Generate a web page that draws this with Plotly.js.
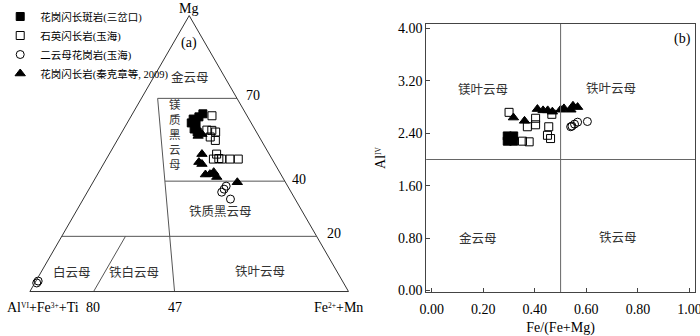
<!DOCTYPE html>
<html><head><meta charset="utf-8">
<script src="https://cdn.plot.ly/plotly-3.0.1.min.js"></script>
<style>html,body{margin:0;padding:0;background:#fff}#chart{width:700px;height:336px}</style>
</head><body><div id="chart"></div>
<script>
const FONT = 'Liberation Serif, Noto Sans CJK SC, serif';

// ---- series ----
const seriesNames = ['花岗闪长斑岩(三岔口)', '石英闪长岩(玉海)', '二云母花岗岩(玉海)', '花岗闪长岩(秦克章等, 2009)'];
const seriesSymbols = ['square', 'square-open', 'circle-open', 'triangle-up'];

// ---- panel (a) ternary data: [Mg, AlVI+Fe3++Ti, Fe2++Mn] in % ----
const terPorphyry = [[64.4,13.5,22.1],[63.3,15.3,21.4],[62.5,17.5,20.0],[61.1,18.8,20.1],[60.7,17.5,21.8],[58.9,19.0,22.1],[57.8,18.6,23.6]];
const terQzDiorite = [[63.7,11.0,25.3],[58.5,15.2,26.3],[58.4,13.7,27.9],[57.8,12.8,29.4],[56.0,15.4,28.6],[54.7,14.4,30.8],[49.8,16.5,33.7],[48.0,18.4,33.6],[48.2,16.6,35.2],[48.0,15.8,36.2],[48.0,13.2,38.8],[48.0,10.6,41.4]];
const terTwoMica = [[36.0,21.8,42.2],[37.1,20.5,42.4],[38.2,19.3,42.5],[33.5,20.3,46.2],[3.1,96.3,0.6],[3.8,95.5,0.7]];
const terGranodiorite = [[56.4,19.0,24.6],[57.1,17.5,25.5],[49.8,21.1,29.1],[46.9,23.5,29.6],[46.2,22.9,30.9],[42.4,23.7,33.9],[42.5,22.2,35.2],[43.3,20.7,36.1],[41.5,20.6,37.9],[39.6,15.1,45.3]];

// ---- panel (a) field boundaries [Mg, Al, Fe] ----
const bndMg70 = [[70,24.9,5.1],[70,0,30]];
const bndMg40 = [[40,37.6,22.4],[40,0,60]];
const bndMg20 = [[20,80,0],[20,0,80]];
const bndInner = [[70,24.9,5.1],[0,54.6,45.4]];
const bndFe20 = [[0,80,20],[20,60,20]];

// ---- panel (b) data: Fe/(Fe+Mg) vs AlIV ----
const bPorphyryX = [0.293,0.318,0.293,0.318,0.305,0.300,0.312];
const bPorphyryY = [2.36,2.36,2.28,2.28,2.32,2.34,2.30];
const bQzDioriteX = [0.300,0.371,0.403,0.403,0.466,0.454,0.449,0.461,0.352,0.378];
const bQzDioriteY = [2.72,2.50,2.63,2.53,2.69,2.50,2.37,2.32,2.28,2.27];
const bTwoMicaX = [0.539,0.544,0.554,0.566,0.604];
const bTwoMicaY = [2.50,2.51,2.54,2.57,2.58];
const bGranodioriteX = [0.317,0.360,0.410,0.432,0.450,0.468,0.500,0.513,0.540,0.548,0.566];
const bGranodioriteY = [2.64,2.59,2.77,2.75,2.75,2.73,2.76,2.78,2.76,2.82,2.80];

const bDivFe = 0.5, bDivAl = 2.0;
const bXTicks = [0, 0.2, 0.4, 0.6, 0.8, 1.0];
const bYTicks = [0, 0.8, 1.6, 2.4, 3.2, 4.0];

const W = 700, H = 336;
const terSeries = [terPorphyry, terQzDiorite, terTwoMica, terGranodiorite];
const bSeries = [[bPorphyryX,bPorphyryY],[bQzDioriteX,bQzDioriteY],[bTwoMicaX,bTwoMicaY],[bGranodioriteX,bGranodioriteY]];

function mk(i) {
  return {symbol: seriesSymbols[i], size: i === 3 ? 9 : 8, color: '#000', line: {color: '#000', width: 1}};
}
function sup(t) {
  return '<span style="baseline-shift:super;font-size:7.5px">' + t + '</span>';
}

const traces = [];
[bndMg70, bndMg40, bndMg20, bndInner, bndFe20].forEach(l => {
  traces.push({type: 'scatterternary', mode: 'lines', a: l.map(p => p[0]), b: l.map(p => p[1]), c: l.map(p => p[2]),
    line: {color: '#555', width: 1}, showlegend: false, hoverinfo: 'skip'});
});
terSeries.forEach((s, i) => {
  traces.push({type: 'scatterternary', mode: 'markers', name: seriesNames[i], legendgroup: 'g' + i,
    a: s.map(p => p[0]), b: s.map(p => p[1]), c: s.map(p => p[2]), marker: mk(i), cliponaxis: false});
});
bSeries.forEach((s, i) => {
  traces.push({type: 'scatter', mode: 'markers', name: seriesNames[i], legendgroup: 'g' + i, showlegend: false,
    x: s[0], y: s[1], xaxis: 'x', yaxis: 'y', marker: mk(i)});
});

function ann(text, x, y, opts) {
  return Object.assign({text: text, x: x / W, y: 1 - y / H, xref: 'paper', yref: 'paper', showarrow: false,
    xanchor: 'center', yanchor: 'middle', font: {family: FONT, size: 14, color: '#000'}}, opts || {});
}
const fieldFont = {family: FONT, size: 12.5, color: '#333'};

const terAx = {showline: true, linecolor: '#333', linewidth: 1, showgrid: false, showticklabels: false, ticks: '', title: {text: ''}};

const layout = {
  width: W, height: H, margin: {l: 0, r: 0, t: 0, b: 0},
  paper_bgcolor: '#fff', plot_bgcolor: '#fff',
  font: {family: FONT, size: 14, color: '#000'},
  showlegend: true,
  legend: {x: -0.004, y: 1 - 2 / H, xanchor: 'left', yanchor: 'top', traceorder: 'normal', tracegroupgap: 0,
    font: {family: FONT, size: 10.5, color: '#000'}, bgcolor: 'rgba(0,0,0,0)', itemwidth: 30},
  ternary: {domain: {x: [27 / W, 347 / W], y: [0.113, 0.973]}, sum: 100, bgcolor: 'rgba(0,0,0,0)',
    aaxis: terAx, baxis: terAx, caxis: terAx},
  xaxis: {domain: [425 / W, 695 / W], range: [-0.0216, 1.0216], tickvals: bXTicks, tickformat: '.2f',
    ticks: 'inside', ticklen: 4, tickcolor: '#444', showline: true, mirror: true, linecolor: '#444', linewidth: 1,
    showgrid: false, zeroline: false, anchor: 'y', automargin: false, fixedrange: true,
    ticklabeloverflow: 'allow', ticklabelstandoff: 4,
    tickfont: {family: FONT, size: 14}, title: {text: 'Fe/(Fe+Mg)', font: {family: FONT, size: 14}, standoff: 8}},
  yaxis: {domain: [1 - 292 / H, 1 - 24 / H], range: [-0.023, 4.069], tickvals: bYTicks, tickformat: '.2f',
    ticks: 'inside', ticklen: 4, tickcolor: '#444', showline: true, mirror: true, linecolor: '#444', linewidth: 1,
    showgrid: false, zeroline: false, anchor: 'x', automargin: false, fixedrange: true,
    tickfont: {family: FONT, size: 14}, title: {text: 'Al' + sup('IV'), font: {family: FONT, size: 14}, standoff: 8}},
  shapes: [
    {type: 'line', xref: 'x', yref: 'y domain', x0: bDivFe, x1: bDivFe, y0: 0, y1: 1, line: {color: '#666', width: 1}},
    {type: 'line', xref: 'x domain', yref: 'y', x0: 0, x1: 1, y0: bDivAl, y1: bDivAl, line: {color: '#666', width: 1}}
  ],
  annotations: [
    ann('Mg', 186.5, 8),
    ann('(a)', 186.7, 43),
    ann('70', 251, 95), ann('40', 297, 179), ann('20', 332, 233),
    ann('80', 90, 307), ann('47', 173, 307),
    ann('Al' + sup('VI') + '+Fe' + sup('3+') + '+Ti', 2, 307, {xanchor: 'left'}),
    ann('Fe' + sup('2+') + '+Mn', 364, 307, {xanchor: 'right'}),
    ann('金云母', 188, 77.5, {font: fieldFont}),
    ann('镁<br>质<br>黑<br>云<br>母', 172.5, 134, {font: {family: FONT, size: 11.5, color: '#333'}}),
    ann('铁质黑云母', 218, 212, {font: fieldFont}),
    ann('白云母', 69, 272, {font: fieldFont}),
    ann('铁白云母', 132, 272, {font: fieldFont}),
    ann('铁叶云母', 258, 272, {font: fieldFont}),
    ann('(b)', 682.5, 39.3),
    ann('镁叶云母', 481.7, 89.3, {font: fieldFont}),
    ann('铁叶云母', 610.8, 89.3, {font: fieldFont}),
    ann('金云母', 477.5, 238.3, {font: fieldFont}),
    ann('铁云母', 617.5, 238.3, {font: fieldFont})
  ]
};

Plotly.newPlot('chart', traces, layout, {displayModeBar: false, staticPlot: true});
</script>
</body></html>
